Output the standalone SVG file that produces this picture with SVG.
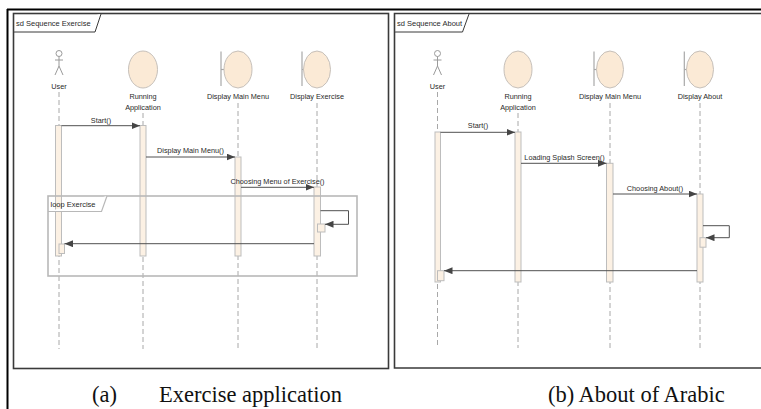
<svg xmlns="http://www.w3.org/2000/svg" width="761" height="409" viewBox="0 0 761 409">
<defs>
<style>
.bg{fill:#fff}
.outer{stroke:#000;stroke-width:2;fill:none}
.frame{fill:none;stroke:#3a3a3a;stroke-width:1.6}
.tab{fill:#fff;stroke:#3a3a3a;stroke-width:1}
.loop{fill:none;stroke:#b8b8b8;stroke-width:1.6}
.looptab{fill:#fff;stroke:#b8b8b8;stroke-width:1.2}
.life{stroke:#a8a8a8;stroke-width:1;stroke-dasharray:5 3;fill:none}
.act{fill:#fcf1e4;stroke:#bdbdbd;stroke-width:1}
.obj{fill:#fbead6;stroke:#c6c0ba;stroke-width:1}
.bnd{stroke:#a8a8a8;stroke-width:1.2;fill:none}
.actor{stroke:#9a9a9a;stroke-width:1;fill:none}
.msg{stroke:#505050;stroke-width:1;fill:none;marker-end:url(#ah)}
.lbl{font-family:"Liberation Sans",Arial,sans-serif;font-size:7.3px;fill:#2a2a2a;text-anchor:middle}
.ttl{font-family:"Liberation Sans",Arial,sans-serif;font-size:7.5px;fill:#2a2a2a}
.cap{font-family:"Liberation Serif","Times New Roman",serif;font-size:22.5px;fill:#111}
</style>
<marker id="ah" markerUnits="userSpaceOnUse" markerWidth="9" markerHeight="7" refX="8.5" refY="3.5" orient="auto">
<path d="M0,0 L8.5,3.5 L0,7 z" fill="#454545"/>
</marker>
</defs>
<rect class="bg" x="0" y="0" width="761" height="409"/>
<g id="outer-border">
<line class="outer" x1="7" y1="9.5" x2="761" y2="9.5"/>
<line class="outer" x1="7.5" y1="9" x2="7.5" y2="409"/>
</g>

<!-- Diagram (a) -->
<g id="frame-a">
<rect class="frame" x="13.5" y="13.5" width="375" height="355"/>
<path class="tab" d="M13.5,32 H95 L101,14"/>
<text class="ttl" x="16" y="26">sd Sequence Exercise</text>
</g>
<g id="a-lifelines">
<line class="life" x1="59" y1="92" x2="59" y2="349"/>
<line class="life" x1="143" y1="113" x2="143" y2="349"/>
<line class="life" x1="238" y1="103" x2="238" y2="349"/>
<line class="life" x1="317" y1="103" x2="317" y2="349"/>
</g>
<g id="a-user">
<circle class="actor" cx="59" cy="53.5" r="3"/>
<path class="actor" d="M59,56.5 V66 M55,60 H63 M55,75 L59,66 L63,75"/>
<text class="lbl" x="59" y="89">User</text>
</g>
<g id="a-running-application">
<ellipse class="obj" cx="143" cy="69.5" rx="14.5" ry="18.5"/>
<text class="lbl" x="143" y="99">Running</text>
<text class="lbl" x="143" y="109.5">Application</text>
</g>
<g id="a-display-main-menu">
<line class="bnd" x1="221" y1="51.5" x2="221" y2="86"/>
<line class="bnd" x1="221" y1="69.5" x2="224" y2="69.5"/>
<ellipse class="obj" cx="238" cy="69.5" rx="14" ry="18.5"/>
<text class="lbl" x="238" y="99">Display Main Menu</text>
</g>
<g id="a-display-exercise">
<line class="bnd" x1="302" y1="51.5" x2="302" y2="86"/>
<line class="bnd" x1="302" y1="69.5" x2="304" y2="69.5"/>
<ellipse class="obj" cx="317" cy="69.5" rx="13.5" ry="18.5"/>
<text class="lbl" x="317" y="99">Display Exercise</text>
</g>
<g id="a-activations">
<rect class="act" x="55.5" y="125.5" width="6" height="130.5"/>
<rect class="act" x="140" y="125.5" width="6" height="130.5"/>
<rect class="act" x="235" y="157" width="6" height="99"/>
<rect class="act" x="314" y="187" width="6.5" height="69"/>
<rect class="act" x="59" y="244" width="5.5" height="9.5"/>
<rect class="act" x="317.5" y="224" width="7.5" height="8"/>
</g>
<g id="a-loop">
<rect class="loop" x="48" y="196" width="309" height="80"/>
<path class="looptab" d="M48,211.5 H101.5 L107,196"/>
<text class="ttl" x="50.5" y="207">loop Exercise</text>
</g>
<g id="a-connectors">
<line class="msg" x1="61.5" y1="125.7" x2="140" y2="125.7"/>
<text class="lbl" x="101" y="123">Start()</text>
<line class="msg" x1="146" y1="157" x2="235" y2="157"/>
<text class="lbl" x="190.5" y="153">Display Main Menu()</text>
<line class="msg" x1="241" y1="187.3" x2="314" y2="187.3"/>
<text class="lbl" x="277.5" y="184">Choosing Menu of Exercise()</text>
<path class="msg" d="M320.5,210.7 H348.5 V224.3 H325"/>
<line class="msg" x1="314" y1="243.7" x2="64.5" y2="243.7"/>
</g>

<!-- Diagram (b) -->
<g id="frame-b">
<path class="frame" d="M762,13.5 H394.5 V368 H762"/>
<path class="tab" d="M394.5,32 H462.5 L469,14"/>
<text class="ttl" x="397" y="26">sd Sequence About</text>
</g>
<g id="b-lifelines">
<line class="life" x1="437.5" y1="92" x2="437.5" y2="348"/>
<line class="life" x1="518" y1="113" x2="518" y2="348"/>
<line class="life" x1="610" y1="103" x2="610" y2="348"/>
<line class="life" x1="700" y1="103" x2="700" y2="348"/>
</g>
<g id="b-user">
<circle class="actor" cx="437.5" cy="53.5" r="3"/>
<path class="actor" d="M437.5,56.5 V66 M433.5,60 H441.5 M433.5,75 L437.5,66 L441.5,75"/>
<text class="lbl" x="437.5" y="89">User</text>
</g>
<g id="b-running-application">
<ellipse class="obj" cx="518" cy="69.5" rx="14" ry="18.5"/>
<text class="lbl" x="518" y="99">Running</text>
<text class="lbl" x="518" y="109.5">Application</text>
</g>
<g id="b-display-main-menu">
<line class="bnd" x1="594" y1="51.5" x2="594" y2="86"/>
<line class="bnd" x1="594" y1="69.5" x2="597" y2="69.5"/>
<ellipse class="obj" cx="610" cy="69.5" rx="13.5" ry="18.5"/>
<text class="lbl" x="610" y="99">Display Main Menu</text>
</g>
<g id="b-display-about">
<line class="bnd" x1="684.3" y1="51.5" x2="684.3" y2="86"/>
<line class="bnd" x1="684.3" y1="69.5" x2="687" y2="69.5"/>
<ellipse class="obj" cx="700" cy="69.5" rx="13.5" ry="18.5"/>
<text class="lbl" x="700" y="99">Display About</text>
</g>
<g id="b-activations">
<rect class="act" x="435" y="132" width="5.5" height="150"/>
<rect class="act" x="515" y="132" width="6" height="150"/>
<rect class="act" x="606.5" y="163.3" width="6.5" height="118.7"/>
<rect class="act" x="697" y="194" width="6" height="88"/>
<rect class="act" x="437.5" y="270.7" width="6.5" height="10"/>
<rect class="act" x="700" y="237.7" width="6" height="9.5"/>
</g>
<g id="b-connectors">
<line class="msg" x1="440.5" y1="132.3" x2="515" y2="132.3"/>
<text class="lbl" x="478" y="128">Start()</text>
<line class="msg" x1="521" y1="163.3" x2="606.5" y2="163.3"/>
<text class="lbl" x="564.5" y="159.5">Loading Splash Screen()</text>
<line class="msg" x1="613" y1="194" x2="697" y2="194"/>
<text class="lbl" x="655" y="190.5">Choosing About()</text>
<path class="msg" d="M703,225.7 H729.3 V237.7 H706"/>
<line class="msg" x1="697" y1="270.7" x2="444" y2="270.7"/>
</g>

<g id="captions">
<text class="cap" x="92" y="401.5">(a)</text>
<text class="cap" x="159" y="401.5">Exercise application</text>
<text class="cap" x="548" y="401.5">(b) About of Arabic</text>
</g>
</svg>
